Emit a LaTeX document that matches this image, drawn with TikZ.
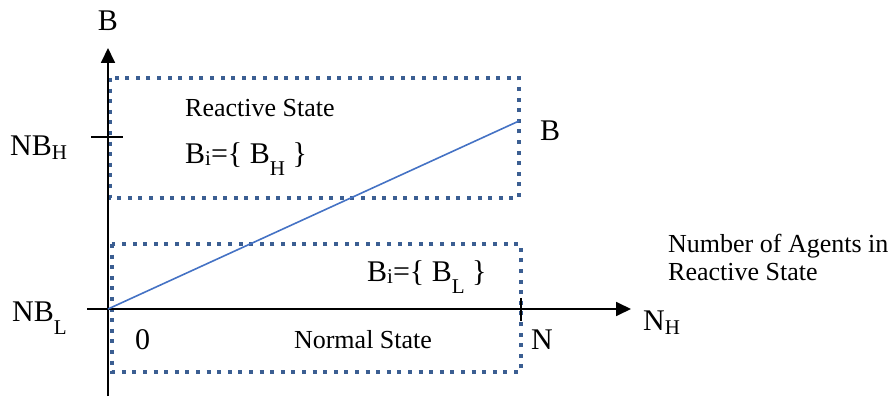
\documentclass[tikz,border=0pt]{standalone}
\usepackage{fontspec}
\setmainfont{Liberation Serif}
\usetikzlibrary{arrows.meta}
\newcommand{\lowsub}[2]{\raisebox{#1}{\fontsize{21}{21}\selectfont #2}}
\begin{document}
\begin{tikzpicture}[x=1pt,y=-1pt,
  axis/.style={line width=1.8pt,-{Triangle[length=15pt,width=14pt]}},
  tickmark/.style={line width=1.5pt},
  statebox/.style={draw={rgb,255:red,59;green,94;blue,146},line width=4pt,dash pattern=on 4pt off 6.6pt},
  bline/.style={draw={rgb,255:red,68;green,114;blue,196},line width=1.6pt},
  big/.style={font=\fontsize{30}{32}\selectfont,inner sep=0pt},
  small/.style={font=\fontsize{26}{28}\selectfont,inner sep=0pt,align=left}]
\useasboundingbox (0,0) rectangle (895,398);
% coordinates
\coordinate (ybot) at (108,396);
\coordinate (ytop) at (108,48);
\coordinate (xleft) at (87,309);
\coordinate (xright) at (631,309);
\coordinate (o) at (108,309);
\coordinate (bend) at (519,121);
\coordinate (th1) at (91,137);
\coordinate (th2) at (123,137);
\coordinate (tn1) at (521,298);
\coordinate (tn2) at (521,321);
% boxes
\draw[statebox] (110,78) rectangle (519,198);
\draw[statebox] (112,244) rectangle (521,372);
% axes
\draw[axis] (ybot) -- (ytop);
\draw[axis] (xleft) -- (xright);
\draw[tickmark] (th1) -- (th2);
\draw[tickmark] (tn1) -- (tn2);
% line
\draw[bline] (o) -- (bend);
% labels
\node[big] (lb) at (108,21) {B};
\node[big,anchor=west] (lnbh) at (10,148) {NB\lowsub{-0.3ex}{H}};
\node[big,anchor=west] (lnbl) at (12,318) {NB\lowsub{-0.9ex}{L}};
\node[big,anchor=west] (lbr) at (540,131) {B};
\node[small,anchor=west] (lrs) at (185,108) {Reactive State};
\node[big,anchor=west] (lbh) at (185,159) {B\lowsub{-0.2ex}{i}=\{ B\lowsub{-0.9ex}{H} \}};
\node[big,anchor=west] (lbl) at (367,277) {B\lowsub{-0.2ex}{i}=\{ B\lowsub{-0.9ex}{L} \}};
\node[big,anchor=west] (l0) at (135,340) {0};
\node[small] (lns) at (363,340) {Normal State};
\node[big,anchor=west] (ln) at (531,340) {N};
\node[big,anchor=west] (lnh) at (643,323) {N\lowsub{-0.3ex}{H}};
\node[small,anchor=north west,font=\fontsize{26}{28}\selectfont] (lnum) at (668,234) {Number of Agents in\\Reactive State};
\end{tikzpicture}
\end{document}
